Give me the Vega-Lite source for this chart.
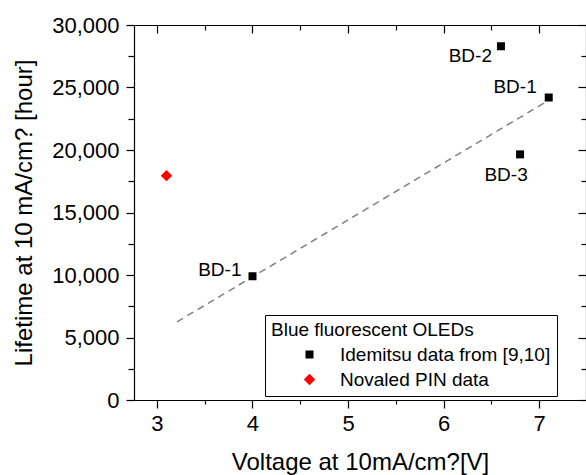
{
  "$schema": "https://vega.github.io/schema/vega-lite/v6.json",
  "width": 452,
  "height": 375,
  "autosize": "none",
  "padding": {"left": 134, "top": 25, "right": 0, "bottom": 75},
  "background": "white",
  "config": {
    "font": "Liberation Sans",
    "view": {"stroke": null},
    "axis": {
      "domainColor": "black",
      "tickColor": "black",
      "labelColor": "black",
      "titleColor": "black",
      "grid": false,
      "domainWidth": 1.2,
      "tickWidth": 1.2,
      "labelFontSize": 22,
      "titleFontSize": 24,
      "titleFontWeight": "normal"
    },
    "legend": {
      "orient": "none",
      "legendX": 131,
      "legendY": 290,
      "strokeColor": "black",
      "fillColor": "white",
      "padding": 6,
      "titleFontSize": 19,
      "titleFontWeight": "normal",
      "titleColor": "black",
      "titlePadding": 5,
      "titleLimit": 500,
      "labelFontSize": 19,
      "labelColor": "black",
      "labelLimit": 400,
      "rowPadding": 5,
      "symbolOffset": 29,
      "labelOffset": 21
    }
  },
  "datasets": {
    "pts": [
      {"voltage": 4.0, "lifetime": 9900, "series": "Idemitsu data from [9,10]", "label": "BD-1", "id": "a"},
      {"voltage": 6.6, "lifetime": 28300, "series": "Idemitsu data from [9,10]", "label": "BD-2", "id": "b"},
      {"voltage": 7.1, "lifetime": 24200, "series": "Idemitsu data from [9,10]", "label": "BD-1", "id": "c"},
      {"voltage": 6.8, "lifetime": 19650, "series": "Idemitsu data from [9,10]", "label": "BD-3", "id": "d"},
      {"voltage": 3.1, "lifetime": 17950, "series": "Novaled PIN data", "label": "", "id": "e"}
    ],
    "fit": [
      {"voltage": 3.21, "lifetime": 6250},
      {"voltage": 7.05, "lifetime": 23750}
    ]
  },
  "layer": [
    {
      "data": {"name": "fit"},
      "mark": {"type": "line", "color": "#808080", "strokeDash": [7, 5], "strokeWidth": 1.5},
      "encoding": {
        "x": {"field": "voltage", "type": "quantitative",
          "scale": {"domain": [2.76, 7.49], "nice": false, "zero": false},
          "axis": {"orient": "bottom", "values": [3, 4, 5, 6, 7], "tickSize": 8, "labelPadding": 5, "labelFontSize": 22,
            "title": "Voltage at 10mA/cm?[V]", "titlePadding": 16, "titleFontSize": 24}},
        "y": {"field": "lifetime", "type": "quantitative",
          "scale": {"domain": [0, 30000], "nice": false},
          "axis": {"orient": "left", "values": [0, 5000, 10000, 15000, 20000, 25000, 30000],
            "labelExpr": "format(datum.value, ',')", "labelFontSize": 22,
            "tickSize": 8, "labelPadding": 7, "title": "Lifetime at 10 mA/cm? [hour]", "titlePadding": 15, "titleFontSize": 24}}
      }
    },
    {
      "data": {"name": "pts"},
      "mark": {"type": "point", "filled": true, "opacity": 1},
      "encoding": {
        "x": {"field": "voltage", "type": "quantitative",
          "axis": {"orient": "bottom", "values": [3.5, 4.5, 5.5, 6.5], "tickSize": 4, "labels": false, "domain": false, "title": null}},
        "y": {"field": "lifetime", "type": "quantitative",
          "axis": {"orient": "left", "values": [2500, 7500, 12500, 17500, 22500, 27500], "tickSize": 6, "labels": false, "domain": false, "title": null}},
        "color": {"field": "series", "type": "nominal",
          "scale": {"domain": ["Idemitsu data from [9,10]", "Novaled PIN data"], "range": ["#000000", "#ff0000"]},
          "legend": {"title": "Blue fluorescent OLEDs", "titleAnchor": "start"}},
        "shape": {"field": "series", "type": "nominal",
          "scale": {"domain": ["Idemitsu data from [9,10]", "Novaled PIN data"], "range": ["square", "diamond"]}},
        "size": {"field": "series", "type": "nominal",
          "scale": {"domain": ["Idemitsu data from [9,10]", "Novaled PIN data"], "range": [64, 130]}}
      }
    },
    {
      "data": {"name": "pts"},
      "transform": [{"filter": "datum.id === 'a'"}],
      "mark": {"type": "text", "align": "right", "baseline": "alphabetic", "dx": -11, "dy": 0, "fontSize": 19, "color": "black"},
      "encoding": {
        "x": {"field": "voltage", "type": "quantitative",
          "axis": {"orient": "top", "values": [3, 4, 5, 6, 7], "tickSize": -8, "labels": false, "title": null}},
        "y": {"field": "lifetime", "type": "quantitative",
          "axis": {"orient": "right", "values": [0, 5000, 10000, 15000, 20000, 25000, 30000], "tickSize": -8, "labels": false, "title": null}},
        "text": {"field": "label"}
      }
    },
    {
      "data": {"name": "pts"},
      "transform": [{"filter": "datum.id === 'b'"}],
      "mark": {"type": "text", "align": "right", "baseline": "alphabetic", "dx": -9, "dy": 16, "fontSize": 19, "color": "black"},
      "encoding": {
        "x": {"field": "voltage", "type": "quantitative",
          "axis": {"orient": "top", "values": [3.5, 4.5, 5.5, 6.5], "tickSize": -5, "labels": false, "domain": false, "title": null}},
        "y": {"field": "lifetime", "type": "quantitative",
          "axis": {"orient": "right", "values": [2500, 7500, 12500, 17500, 22500, 27500], "tickSize": -5, "labels": false, "domain": false, "title": null}},
        "text": {"field": "label"}
      }
    },
    {
      "data": {"name": "pts"},
      "transform": [{"filter": "datum.id === 'c'"}],
      "mark": {"type": "text", "align": "right", "baseline": "alphabetic", "dx": -12, "dy": -5, "fontSize": 19, "color": "black"},
      "encoding": {
        "x": {"field": "voltage", "type": "quantitative", "axis": null},
        "y": {"field": "lifetime", "type": "quantitative", "axis": null},
        "text": {"field": "label"}
      }
    },
    {
      "data": {"name": "pts"},
      "transform": [{"filter": "datum.id === 'd'"}],
      "mark": {"type": "text", "align": "center", "baseline": "alphabetic", "dx": -14, "dy": 27, "fontSize": 19, "color": "black"},
      "encoding": {
        "x": {"field": "voltage", "type": "quantitative", "axis": null},
        "y": {"field": "lifetime", "type": "quantitative", "axis": null},
        "text": {"field": "label"}
      }
    }
  ],
  "resolve": {"axis": {"x": "independent", "y": "independent"}}
}
